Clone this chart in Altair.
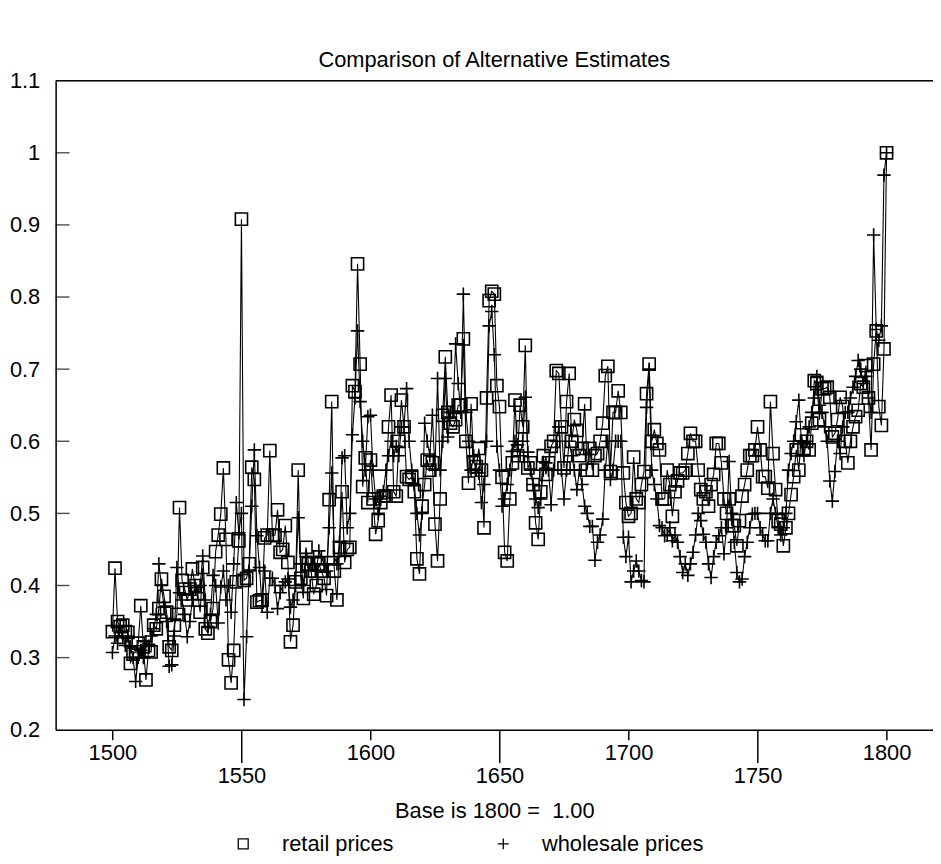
import altair as alt
import pandas as pd

FONT = "Liberation Sans"

years = list(range(1500, 1801))

retail = [
    0.336, 0.424, 0.350, 0.343, 0.345, 0.336, 0.335, 0.292, 0.305, 0.308,
    0.320, 0.372, 0.315, 0.269, 0.310, 0.308, 0.345, 0.340, 0.368, 0.409,
    0.385, 0.363, 0.315, 0.310, 0.345, 0.360, 0.508, 0.407, 0.395, 0.380,
    0.395, 0.423, 0.400, 0.389, 0.363, 0.425, 0.340, 0.334, 0.350, 0.368,
    0.447, 0.470, 0.499, 0.563, 0.464, 0.297, 0.265, 0.310, 0.405, 0.462,
    0.908, 0.407, 0.410, 0.430, 0.564, 0.547, 0.377, 0.379, 0.380, 0.466,
    0.470, 0.587, 0.469, 0.470, 0.505, 0.446, 0.450, 0.483, 0.432, 0.322,
    0.345, 0.405, 0.560, 0.410, 0.382, 0.453, 0.430, 0.420, 0.388, 0.400,
    0.430, 0.420, 0.410, 0.386, 0.519, 0.655, 0.420, 0.380, 0.453, 0.530,
    0.432, 0.450, 0.453, 0.677, 0.669, 0.846, 0.707, 0.537, 0.577, 0.515,
    0.574, 0.520, 0.471, 0.490, 0.515, 0.524, 0.524, 0.620, 0.664, 0.530,
    0.524, 0.600, 0.657, 0.620, 0.551, 0.547, 0.550, 0.530, 0.437, 0.416,
    0.510, 0.540, 0.574, 0.560, 0.570, 0.485, 0.434, 0.520, 0.636, 0.717,
    0.640, 0.625, 0.620, 0.630, 0.650, 0.650, 0.742, 0.600, 0.542, 0.652,
    0.570, 0.565, 0.590, 0.560, 0.480, 0.660, 0.795, 0.808, 0.804, 0.677,
    0.648, 0.550, 0.446, 0.434, 0.520, 0.570, 0.657, 0.580, 0.650, 0.620,
    0.733, 0.563, 0.570, 0.540, 0.487, 0.464, 0.530, 0.580, 0.554, 0.570,
    0.593, 0.600, 0.698, 0.694, 0.620, 0.563, 0.655, 0.694, 0.600, 0.630,
    0.615, 0.580, 0.590, 0.652, 0.560, 0.590, 0.560, 0.580, 0.583, 0.600,
    0.625, 0.691, 0.704, 0.558, 0.640, 0.640, 0.670, 0.640, 0.556, 0.515,
    0.496, 0.500, 0.578, 0.520, 0.515, 0.540, 0.558, 0.666, 0.707, 0.600,
    0.616, 0.597, 0.588, 0.520, 0.520, 0.560, 0.540, 0.496, 0.530, 0.545,
    0.556, 0.556, 0.560, 0.583, 0.611, 0.600, 0.600, 0.560, 0.533, 0.520,
    0.530, 0.510, 0.540, 0.554, 0.597, 0.597, 0.570, 0.520, 0.500, 0.520,
    0.483, 0.483, 0.455, 0.490, 0.524, 0.540, 0.560, 0.580, 0.580, 0.588,
    0.620, 0.588, 0.551, 0.551, 0.535, 0.655, 0.583, 0.533, 0.490, 0.485,
    0.455, 0.480, 0.500, 0.526, 0.551, 0.588, 0.560, 0.609, 0.590, 0.600,
    0.588, 0.625, 0.684, 0.680, 0.630, 0.673, 0.673, 0.675, 0.661, 0.606,
    0.611, 0.630, 0.661, 0.648, 0.600, 0.570, 0.600, 0.620, 0.634, 0.643,
    0.680, 0.675, 0.705, 0.660, 0.588, 0.707, 0.753, 0.648, 0.622, 0.728,
    1.000,
]

wholesale = [
    0.307, 0.330, 0.320, 0.343, 0.330, 0.317, 0.330, 0.315, 0.300, 0.267,
    0.300, 0.310, 0.300, 0.322, 0.316, 0.330, 0.340, 0.360, 0.430, 0.400,
    0.370, 0.350, 0.288, 0.290, 0.330, 0.425, 0.390, 0.380, 0.360, 0.329,
    0.350, 0.380, 0.400, 0.390, 0.400, 0.441, 0.380, 0.343, 0.360, 0.414,
    0.400, 0.348, 0.398, 0.420, 0.380, 0.400, 0.363, 0.430, 0.515, 0.473,
    0.500, 0.242, 0.329, 0.420, 0.510, 0.588, 0.469, 0.425, 0.372, 0.420,
    0.363, 0.410, 0.410, 0.400, 0.368, 0.390, 0.400, 0.405, 0.409, 0.370,
    0.380, 0.400, 0.494, 0.430, 0.400, 0.440, 0.420, 0.430, 0.440, 0.420,
    0.448, 0.440, 0.430, 0.420, 0.480, 0.556, 0.440, 0.430, 0.460, 0.577,
    0.580, 0.480, 0.500, 0.609, 0.660, 0.753, 0.655, 0.600, 0.560, 0.634,
    0.636, 0.560, 0.520, 0.500, 0.520, 0.530, 0.560, 0.580, 0.600, 0.580,
    0.593, 0.580, 0.620, 0.620, 0.673, 0.600, 0.560, 0.540, 0.500, 0.470,
    0.500, 0.625, 0.600, 0.580, 0.636, 0.560, 0.687, 0.560, 0.600, 0.687,
    0.606, 0.640, 0.640, 0.735, 0.680, 0.640, 0.804, 0.640, 0.600, 0.560,
    0.580, 0.560, 0.556, 0.515, 0.540, 0.600, 0.760, 0.780, 0.720, 0.593,
    0.560, 0.510, 0.520, 0.540, 0.560, 0.586, 0.600, 0.595, 0.580, 0.600,
    0.661, 0.585, 0.560, 0.540, 0.520, 0.508, 0.520, 0.560, 0.570, 0.560,
    0.512, 0.560, 0.600, 0.620, 0.560, 0.520, 0.560, 0.600, 0.580, 0.560,
    0.533, 0.560, 0.540, 0.510, 0.500, 0.482, 0.482, 0.435, 0.460, 0.470,
    0.492, 0.560, 0.600, 0.547, 0.560, 0.600, 0.600, 0.600, 0.467, 0.440,
    0.467, 0.405, 0.420, 0.434, 0.420, 0.407, 0.405, 0.647, 0.700, 0.560,
    0.540, 0.520, 0.483, 0.480, 0.469, 0.470, 0.480, 0.462, 0.470, 0.460,
    0.440, 0.418, 0.430, 0.414, 0.430, 0.446, 0.470, 0.500, 0.490, 0.471,
    0.460, 0.430, 0.411, 0.440, 0.460, 0.469, 0.480, 0.444, 0.480, 0.572,
    0.500, 0.460, 0.418, 0.405, 0.409, 0.440, 0.460, 0.480, 0.499, 0.500,
    0.500, 0.480, 0.470, 0.462, 0.462, 0.500, 0.520, 0.500, 0.480, 0.470,
    0.480, 0.500, 0.560, 0.583, 0.600, 0.627, 0.657, 0.600, 0.580, 0.600,
    0.620, 0.640, 0.660, 0.690, 0.650, 0.640, 0.620, 0.600, 0.545, 0.517,
    0.558, 0.600, 0.583, 0.620, 0.640, 0.640, 0.660, 0.675, 0.690, 0.712,
    0.700, 0.680, 0.690, 0.660, 0.640, 0.886, 0.755, 0.740, 0.760, 0.969,
    1.000,
]

series_names = ["retail prices", "wholesale prices"]
x_ticks = [1500, 1550, 1600, 1650, 1700, 1750, 1800]
y_ticks = [0.2, 0.3, 0.4, 0.5, 0.6, 0.7, 0.8, 0.9, 1.0, 1.1]
y_inner_ticks = [0.3, 0.4, 0.5, 0.6, 0.7, 0.8, 0.9, 1.0]

df = pd.DataFrame({
    "year": years + years,
    "value": retail + wholesale,
    "series": [series_names[0]] * len(years) + [series_names[1]] * len(years),
})

W, H = 884, 654

x_enc = alt.X(
    "year:Q",
    scale=alt.Scale(domain=[1478, 1818], nice=False, zero=False),
    axis=alt.Axis(
        values=x_ticks, format="d", grid=False, labelOverlap=False,
        tickSize={"condition": {"test": "datum.value % 100 == 50", "value": 33}, "value": 10},
        tickWidth=1.5, tickColor="black",
        labelFont=FONT, labelFontSize=22, labelColor="black", labelPadding=3,
        domainColor="black", domainWidth=1.5,
        title="Base is 1800 =\u00a0 1.00", titleFont=FONT, titleFontSize=22,
        titleFontWeight="normal", titleColor="black",
        titleY=88, titleBaseline="alphabetic",
    ),
)
y_enc = alt.Y(
    "value:Q",
    scale=alt.Scale(domain=[0.2, 1.1], nice=False, zero=False),
    axis=alt.Axis(
        values=y_ticks, format="~g", grid=False, ticks=False,
        labelFont=FONT, labelFontSize=22, labelColor="black", labelPadding=16,
        domainColor="black", domainWidth=1.5, title=None,
    ),
)

base = alt.Chart(df)

lines = base.mark_line(color="black", strokeWidth=1.1).encode(
    x=x_enc, y=y_enc, detail="series:N"
)

points = base.mark_point(
    filled=False, color="black", strokeWidth=1.6, opacity=1, size=150
).encode(
    x=x_enc,
    y=y_enc,
    shape=alt.Shape(
        "series:N",
        scale=alt.Scale(
            domain=series_names,
            range=["square", "M-1.1,0H1.1M0,-1.1V1.1"],
        ),
        legend=alt.Legend(
            orient="none", legendX=178, legendY=758, direction="horizontal",
            title=None, labelFont=FONT, labelFontSize=22, labelColor="black",
            labelLimit=400,
            symbolSize=100, symbolStrokeWidth=1.3, symbolStrokeColor="black",
            symbolFillColor="transparent",
            labelOffset=28, columnPadding=99, padding=0,
        ),
    ),
)

# inward-pointing tick marks on the left frame edge
tick_df = pd.DataFrame({"tick": y_inner_ticks})
y_ticks_inner = alt.Chart(tick_df).mark_tick(
    color="black", thickness=1.4, size=14, orient="horizontal"
).encode(
    y=alt.Y("tick:Q"),
    x=alt.value(7),
)

# top edge of the frame
top_frame = alt.Chart(pd.DataFrame({"edge": [1.1]})).mark_rule(
    color="black", strokeWidth=1.5
).encode(
    y=alt.Y("edge:Q"),
    x=alt.value(0),
    x2=alt.value(W),
)

chart = alt.layer(lines, points, y_ticks_inner, top_frame).properties(
    width=W,
    height=H,
    title=alt.TitleParams(
        "Comparison of Alternative Estimates",
        font=FONT, fontSize=22, fontWeight="normal", color="black",
        anchor="middle", offset=-2,
    ),
    padding={"left": 48, "top": 70, "right": 0, "bottom": 124},
    autosize=alt.AutoSizeParams(type="none"),
).configure_view(stroke=None).configure(background="white")

chart.save("out.html", embed_options={"renderer": "svg", "actions": False})
